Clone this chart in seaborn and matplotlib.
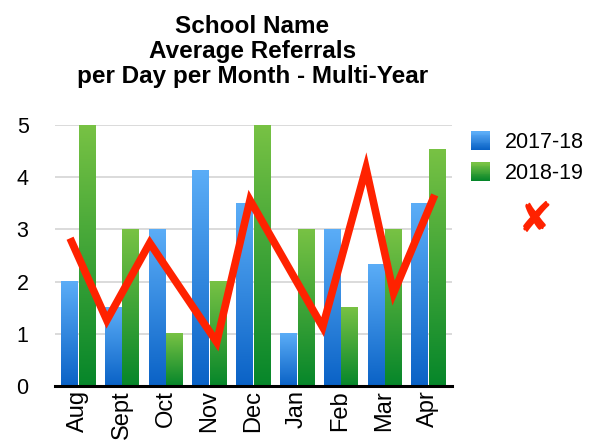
import matplotlib
matplotlib.use("Agg")
import matplotlib.pyplot as plt
import matplotlib.colors as mcolors
from matplotlib.patches import Patch, Rectangle
from matplotlib.legend_handler import HandlerBase
import numpy as np
import pandas as pd
import seaborn as sns

"""
Average referrals per day per month, two school years,
with the red hand-drawn trend scribble on top.
"""

months = ["Aug", "Sept", "Oct", "Nov", "Dec", "Jan", "Feb", "Mar", "Apr"]
years = ["2017-18", "2018-19"]
referrals_1718 = [2.0, 1.5, 3.0, 4.13, 3.5, 1.0, 3.0, 2.33, 3.5]
referrals_1819 = [5.0, 3.0, 1.0, 2.0, 5.0, 3.0, 1.5, 3.0, 4.53]

# the red scribble (x in month-index units, y in referrals)
scribble_x = [-0.18, 0.66, 1.64, 3.17, 3.93, 5.59, 6.58, 7.21, 8.15]
scribble_y = [2.83, 1.26, 2.74, 0.84, 3.56, 1.13, 4.17, 1.78, 3.66]

df = pd.DataFrame({
    "month": months * 2,
    "year": [years[0]] * len(months) + [years[1]] * len(months),
    "value": referrals_1718 + referrals_1819,
})

sns.set_style("white")
plt.rcParams["font.family"] = ["Liberation Sans", "DejaVu Sans"]
plt.rcParams["text.color"] = "black"
plt.rcParams["xtick.color"] = "black"
plt.rcParams["ytick.color"] = "black"

fig = plt.figure(figsize=(6.04, 4.41), dpi=100)
ax = fig.add_axes([0.091, 0.1247, 0.657, 0.592])

blue_top, blue_bot = "#5badf7", "#0a62c6"
green_top, green_bot = "#78c244", "#06862a"
gradients = [(blue_bot, blue_top), (green_bot, green_top)]

sns.barplot(data=df, x="month", y="value", hue="year", order=months,
            hue_order=years, palette=[blue_bot, green_bot], gap=0.08,
            width=0.8, saturation=1, legend=False, ax=ax, zorder=2)

grad = np.linspace(0, 1, 256).reshape(-1, 1)
for cont, (c_bot, c_top) in zip(ax.containers, gradients):
    cmap = mcolors.LinearSegmentedColormap.from_list("g", [c_bot, c_top])
    for bar in cont:
        x0, w, h = bar.get_x(), bar.get_width(), bar.get_height()
        ax.imshow(grad, extent=[x0, x0 + w, 0, h], origin="lower", cmap=cmap,
                  aspect="auto", zorder=2.1, interpolation="bilinear")
        bar.set_facecolor("none")
        bar.set_edgecolor("none")

sns.lineplot(x=scribble_x, y=scribble_y, color="#ff2200", lw=5.5, ax=ax,
             zorder=4, solid_joinstyle="miter", solid_capstyle="butt")

ax.set_xlim(-0.525, 8.54)
ax.set_ylim(0, 5)
ax.set_yticks(range(6))
ax.grid(axis="y", color="#d4d4d4", lw=1.2, zorder=0)
ax.set_axisbelow(True)
for s in ["top", "right", "left"]:
    ax.spines[s].set_visible(False)
ax.spines["bottom"].set_color("black")
ax.spines["bottom"].set_linewidth(2.2)
ax.spines["bottom"].set_zorder(5)
ax.tick_params(axis="y", length=0, pad=19, labelsize=15.5)
ax.tick_params(axis="x", length=0, pad=3, labelsize=17, rotation=90)
ax.set_xlabel("")
ax.set_ylabel("")

fig.text(0.418, 0.966, "School Name\nAverage Referrals\nper Day per Month - Multi-Year",
         ha="center", va="top", fontsize=17.5, fontweight="bold", linespacing=1.12)


class GradientHandler(HandlerBase):
    def __init__(self, c_bot, c_top):
        super().__init__()
        self.cmap = mcolors.LinearSegmentedColormap.from_list("h", [c_bot, c_top])

    def create_artists(self, legend, orig_handle, xdescent, ydescent,
                       width, height, fontsize, trans):
        n = 20
        arts = []
        for i in range(n):
            r = Rectangle((-xdescent, -ydescent + height * i / n), width,
                          height / n + 0.3, facecolor=self.cmap(i / (n - 1)),
                          edgecolor="none", transform=trans)
            arts.append(r)
        return arts


handles = [Patch(facecolor="#3a8ae3"), Patch(facecolor="#3da43a")]
fig.legend(handles, years, loc="upper left", bbox_to_anchor=(0.747, 0.745),
           frameon=False, fontsize=15.5, handlelength=0.9, handleheight=0.9,
           handletextpad=0.7, labelspacing=0.45,
           handler_map={handles[0]: GradientHandler(*gradients[0]),
                        handles[1]: GradientHandler(*gradients[1])})

fig.text(0.886, 0.502, "\u2718", color="#ff2200", fontsize=30,
         ha="center", va="center", family=["DejaVu Sans"])

fig.savefig("out.png", dpi=100)
